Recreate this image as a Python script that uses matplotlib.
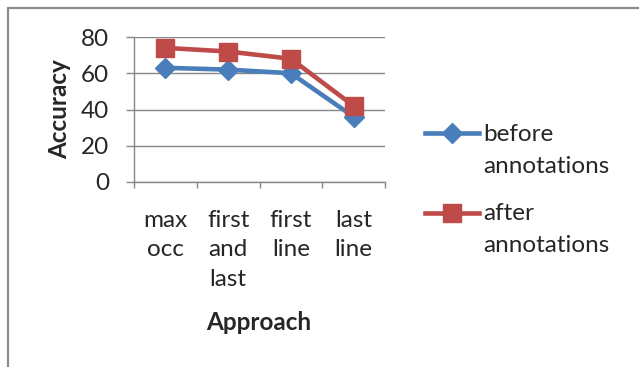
import numpy as np
import matplotlib
matplotlib.use('Agg')
import matplotlib.pyplot as plt
from matplotlib.patches import Rectangle
from matplotlib.legend_handler import HandlerLine2D

# data
categories = ['max\nocc', 'first\nand\nlast', 'first\nline', 'last\nline']
before = [63, 62, 60, 36]
after = [74, 72, 68, 42]
series_names = ['before\nannotations', 'after\nannotations']

plt.rcParams['font.family'] = ['Lato', 'DejaVu Sans']
FS = 17.5
TXT = '#262626'
GRID = '#868686'


class TopLineHandler(HandlerLine2D):
    # put the legend line next to the first text line instead of the middle
    def create_artists(self, legend, orig_handle, xdescent, ydescent,
                       width, height, fontsize, trans):
        arts = super().create_artists(legend, orig_handle, xdescent, ydescent,
                                      width, height, fontsize, trans)
        for a in arts:
            a.set_ydata(np.asarray(a.get_ydata()) + 0.7 * fontsize)
        return arts


fig = plt.figure(figsize=(6.39, 3.67), dpi=100)
ax = fig.add_axes([134 / 639, 1 - 182 / 367, 251 / 639, 145 / 367])

x = np.arange(len(categories))
l1, = ax.plot(x, before, color='#4A7EBB', lw=3.3, marker='D', ms=10.5,
              mec='#4A7EBB', label=series_names[0], zorder=3)
l2, = ax.plot(x, after, color='#BE4B48', lw=3.3, marker='s', ms=13,
              mec='#BE4B48', label=series_names[1], zorder=4)

ax.set_xlim(-0.5, len(categories) - 0.5)
ax.set_ylim(0, 80)
ax.set_yticks(np.arange(0, 81, 20))
ax.yaxis.grid(True, color=GRID, lw=1)
ax.set_axisbelow(True)

ax.set_xticks(x)
ax.set_xticklabels(categories, fontsize=FS, color=TXT, linespacing=1.5,
                   va='top')
ax.set_xticks(np.arange(-0.5, len(categories)), minor=True)
ax.tick_params(axis='x', which='major', length=0, pad=20)
ax.tick_params(axis='x', which='minor', length=4, color=GRID, width=1)
ax.tick_params(axis='y', length=6, color=GRID, width=1, pad=12,
               labelsize=FS, labelcolor=TXT)

for s in ['top', 'right']:
    ax.spines[s].set_visible(False)
for s in ['left', 'bottom']:
    ax.spines[s].set_color(GRID)
    ax.spines[s].set_linewidth(1)

fig.text(60 / 639, 1 - 109 / 367, 'Accuracy', rotation=90, fontsize=FS,
         fontweight='bold', color=TXT, ha='center', va='center')
fig.text(259 / 639, 1 - 323 / 367, 'Approach', fontsize=FS,
         fontweight='bold', color=TXT, ha='center', va='center')

leg = fig.legend(handles=[l1, l2], loc='upper left',
                 bbox_to_anchor=(415 / 639, 1 - 114 / 367),
                 borderaxespad=0, frameon=False, fontsize=FS,
                 handlelength=2.25, handletextpad=0.15, labelspacing=1.05,
                 handler_map={matplotlib.lines.Line2D: TopLineHandler()})
for t in leg.get_texts():
    t.set_color(TXT)
    t.set_linespacing(1.68)

# outer chart border (only top and left edges visible)
fig.add_artist(Rectangle((7.5 / 639, -0.1), 1.2, 1.1 - 8.5 / 367,
                         transform=fig.transFigure, fill=False,
                         ec='#8c8c8c', lw=1.6))

fig.savefig('out.png', dpi=100)
